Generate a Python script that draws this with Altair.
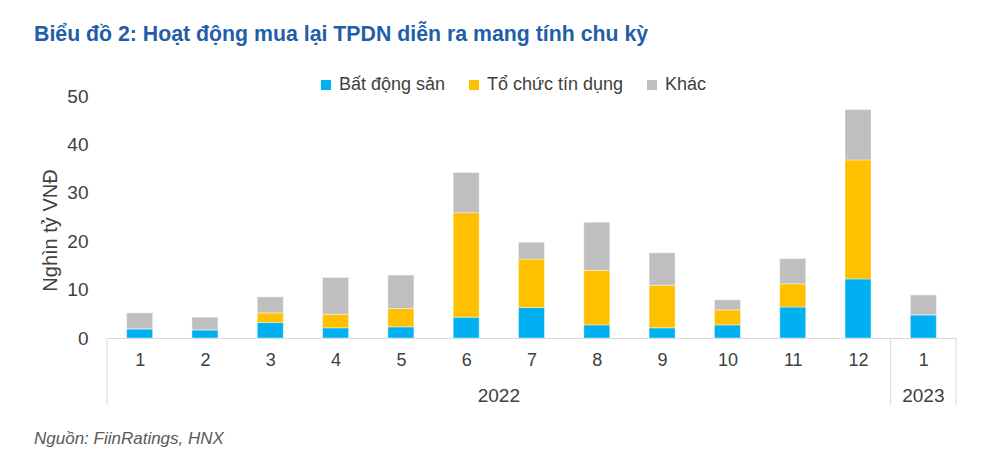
import altair as alt
import pandas as pd

months = ["1", "2", "3", "4", "5", "6", "7", "8", "9", "10", "11", "12", "1"]
years = ["2022"] * 12 + ["2023"]
bat_dong_san = [1.9, 1.7, 3.2, 2.1, 2.3, 4.3, 6.3, 2.7, 2.1, 2.7, 6.4, 12.2, 4.8]
to_chuc_tin_dung = [0.0, 0.0, 2.0, 2.8, 3.8, 21.6, 10.0, 11.3, 8.8, 3.1, 4.8, 24.6, 0.0]
khac = [3.3, 2.6, 3.3, 7.6, 6.9, 8.3, 3.5, 9.9, 6.7, 2.1, 5.2, 10.4, 4.1]

series_names = ["Bất động sản", "Tổ chức tín dụng", "Khác"]
series_colors = ["#00B0F0", "#FFC000", "#BFBFBF"]

rows = []
for i in range(len(months)):
    for k, (name, vals) in enumerate(zip(series_names, [bat_dong_san, to_chuc_tin_dung, khac])):
        rows.append({"idx": i + 1, "month": months[i], "year": years[i],
                     "series": name, "value": vals[i], "order": k})
df = pd.DataFrame(rows)

# year group boundaries and centres, derived from the month/year lists
bounds = []
centres = []
start = 0
for j in range(1, len(years) + 1):
    if j == len(years) or years[j] != years[start]:
        bounds.append(start + 0.5)
        centres.append({"pos": (start + 1 + j) / 2, "label": years[start]})
        start = j
bounds.append(len(years) + 0.5)
div_df = pd.DataFrame({"pos": bounds})
year_df = pd.DataFrame(centres)

W, H = 849, 242
FONT = "Liberation Sans, Arial, sans-serif"
TXT = "#404040"

label_arr = "[" + ",".join("'" + m + "'" for m in months) + "]"
xscale = alt.Scale(domain=[0.5, len(months) + 0.5], nice=False, zero=False, padding=0)

bars = alt.Chart(df).mark_bar(size=26, stroke="white", strokeWidth=0.4).encode(
    x=alt.X("idx:Q", scale=xscale,
            axis=alt.Axis(values=list(range(1, len(months) + 1)),
                          labelExpr=label_arr + "[datum.value-1]",
                          title=None, ticks=False, grid=False,
                          domainColor="#D9D9D9", domainWidth=1,
                          labelFont=FONT, labelFontSize=18, labelColor=TXT,
                          labelPadding=13)),
    y=alt.Y("value:Q", stack="zero",
            scale=alt.Scale(domain=[0, 50], nice=False),
            axis=alt.Axis(values=[0, 10, 20, 30, 40, 50], title="Nghìn tỷ VNĐ",
                          domain=False, ticks=False, grid=False,
                          labelFont=FONT, labelFontSize=19, labelColor=TXT,
                          labelPadding=19, titleFont=FONT, titleFontSize=20,
                          titleFontWeight="normal", titleColor=TXT,
                          titlePadding=6, titleY=134)),
    color=alt.Color("series:N",
                    scale=alt.Scale(domain=series_names, range=series_colors),
                    legend=alt.Legend(title=None, orient="none", direction="horizontal",
                                      legendX=210, legendY=-20, padding=0,
                                      symbolType="square", symbolSize=100,
                                      symbolStrokeWidth=0, labelFont=FONT,
                                      labelFontSize=18, labelColor=TXT,
                                      columnPadding=19, labelOffset=4)),
    order=alt.Order("order:Q", sort="ascending"),
)

dividers = alt.Chart(div_df).mark_rule(color="#D9D9D9", strokeWidth=1).encode(
    x=alt.X("pos:Q", scale=xscale),
    y=alt.value(H),
    y2=alt.value(H + 67),
)

year_text = alt.Chart(year_df).mark_text(font=FONT, fontSize=19, color=TXT,
                                         baseline="middle", align="center").encode(
    x=alt.X("pos:Q", scale=xscale),
    y=alt.value(H + 58),
    text="label:N",
)

title_text = alt.Chart(pd.DataFrame({"t": ["Biểu đồ 2: Hoạt động mua lại TPDN diễn ra mang tính chu kỳ"]})).mark_text(
    font=FONT, fontSize=21.3, fontWeight="bold", color="#1F5FA8", align="left", baseline="middle"
).encode(x=alt.value(-73), y=alt.value(-61), text="t:N")

source_text = alt.Chart(pd.DataFrame({"t": ["Nguồn: FiinRatings, HNX"]})).mark_text(
    font=FONT, fontSize=17, fontStyle="italic", color="#595959", align="left", baseline="middle"
).encode(x=alt.value(-73), y=alt.value(H + 101), text="t:N")

chart = alt.layer(bars, dividers, year_text, title_text, source_text).properties(
    width=W, height=H,
    background="white",
    autosize=alt.AutoSizeParams(type="none"),
    padding={"left": 99, "top": 88, "right": 30, "bottom": 110},
).configure_view(strokeWidth=0, stroke="transparent").configure_scale(continuousPadding=0)

chart.save("out.html", embed_options={"renderer": "svg", "actions": False})
